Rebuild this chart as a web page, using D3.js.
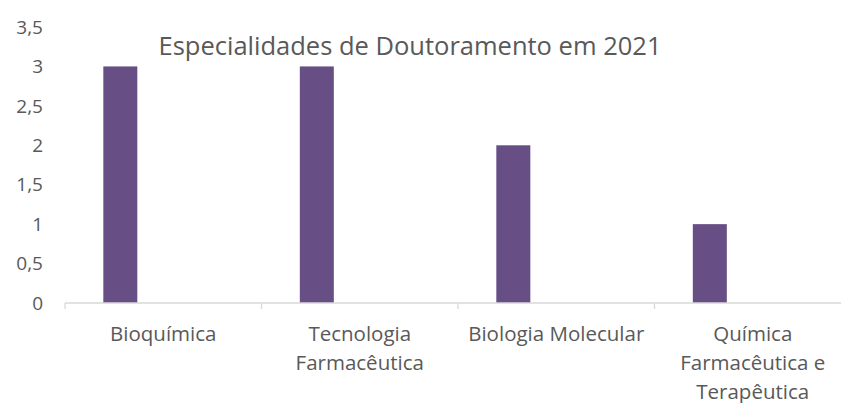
<!DOCTYPE html>
<html>
<head>
<meta charset="utf-8">
<script src="https://cdn.jsdelivr.net/npm/d3@7"></script>
<style>
  body { margin: 0; background: #fff; }
  svg text { font-family: 'Open Sans', sans-serif; fill: #595959; }
</style>
</head>
<body>
<div id="chart"><svg></svg></div>
<script>
const categories = [
    ['Bioquímica'],
    ['Tecnologia', 'Farmacêutica'],
    ['Biologia Molecular'],
    ['Química', 'Farmacêutica e', 'Terapêutica']
]
const values = [3, 3, 2, 1]
const yTicks = [0, 0.5, 1, 1.5, 2, 2.5, 3, 3.5]
const title = 'Especialidades de Doutoramento em 2021'

const width = 841
const height = 403
const barColor = '#674f86'

let svg = d3.select('#chart svg')
    .attr('width', width)
    .attr('height', height)

const x = d3.scaleBand()
    .domain(d3.range(categories.length))
    .range([65, 851])
    .padding(0)

const y = d3.scaleLinear()
    .domain([0, 3.5])
    .range([303, 27])

const fmt = d => String(d).replace('.', ',')

// y labels (no axis line)
svg.append('g')
    .selectAll('text')
    .data(yTicks)
    .join('text')
    .attr('x', 43)
    .attr('y', d => y(d))
    .attr('dy', '0.35em')
    .attr('text-anchor', 'end')
    .style('font-size', '19px')
    .text(fmt)

// bars
svg.append('g')
    .selectAll('rect')
    .data(values)
    .join('rect')
    .attr('x', (d, i) => x(i) + x.bandwidth() * 0.195)
    .attr('width', x.bandwidth() * 0.173)
    .attr('y', d => y(d))
    .attr('height', d => y(0) - y(d))
    .attr('fill', barColor)

// x axis
const xAxis = svg.append('g')
    .attr('transform', `translate(0, ${y(0)})`)

xAxis.append('line')
    .attr('x1', x.range()[0])
    .attr('x2', x.range()[1])
    .attr('stroke', '#d9d9d9')
    .attr('stroke-width', 1.3)

xAxis.selectAll('.tick')
    .data(d3.range(categories.length + 1))
    .join('line')
    .attr('class', 'tick')
    .attr('x1', i => x.range()[0] + i * x.step())
    .attr('x2', i => x.range()[0] + i * x.step())
    .attr('y1', 0)
    .attr('y2', 6)
    .attr('stroke', '#d9d9d9')
    .attr('stroke-width', 1.3)

const labels = svg.append('g')
    .selectAll('text')
    .data(categories)
    .join('text')
    .attr('text-anchor', 'middle')
    .style('font-size', '20.5px')

labels.selectAll('tspan')
    .data((d, i) => d.map(t => ({ t, i })))
    .join('tspan')
    .attr('x', d => x(d.i) + x.bandwidth() / 2)
    .attr('y', (d, j) => 341 + j * 28.8)
    .text(d => d.t)

// title
svg.append('text')
    .attr('x', 410)
    .attr('y', 55)
    .attr('text-anchor', 'middle')
    .style('font-size', '25.5px')
    .text(title)
</script>
</body>
</html>
